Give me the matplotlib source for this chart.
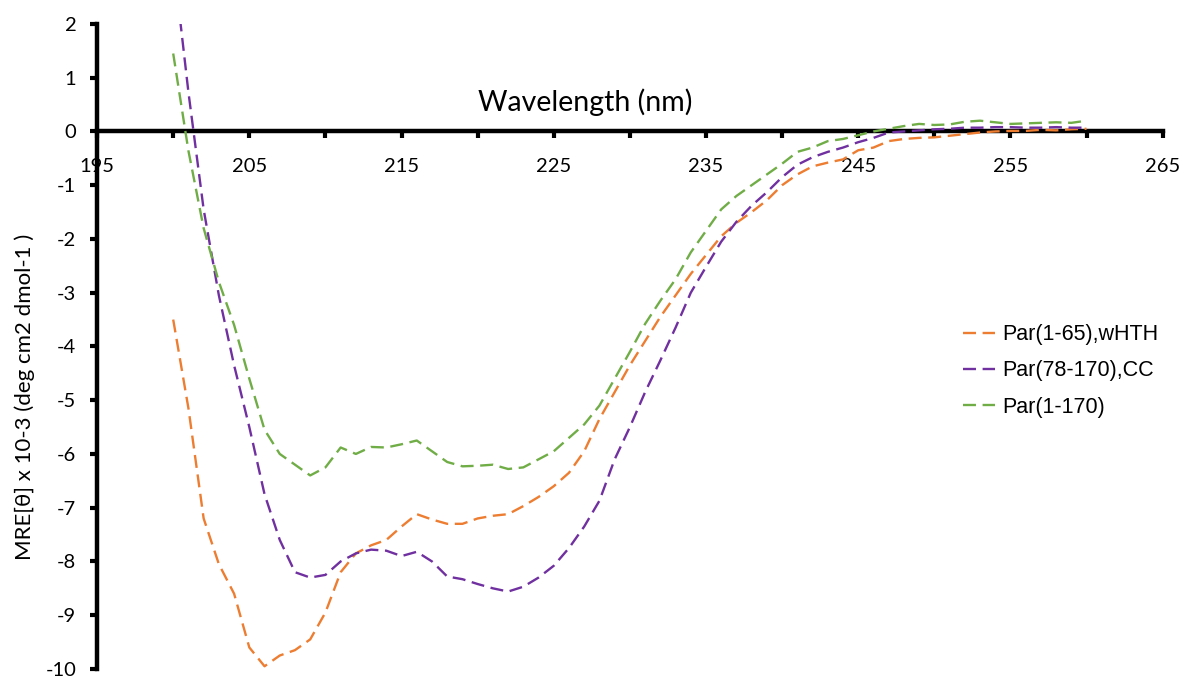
import matplotlib
matplotlib.use("Agg")
import matplotlib.pyplot as plt
import numpy as np

plt.rcParams["axes.unicode_minus"] = False

wavelength = np.arange(200, 261)

par_1_65 = [
    -3.5, -5.15, -7.2, -8.05, -8.6, -9.6, -9.95, -9.75, -9.65, -9.45,
    -8.95, -8.2, -7.85, -7.7, -7.6, -7.35, -7.12, -7.22, -7.3, -7.3,
    -7.2, -7.15, -7.12, -6.97, -6.8, -6.6, -6.35, -5.95, -5.35, -4.85,
    -4.35, -3.9, -3.45, -3.05, -2.65, -2.3, -1.95, -1.7, -1.5, -1.28,
    -1.0, -0.8, -0.65, -0.58, -0.52, -0.35, -0.3, -0.18, -0.14, -0.12,
    -0.11, -0.08, -0.05, -0.02, 0.0, 0.01, 0.01, 0.03, 0.02, 0.04, 0.05,
]

par_78_170 = [
    3.2, 0.73, -1.45, -3.05, -4.35, -5.5, -6.75, -7.6, -8.2, -8.3,
    -8.25, -8.0, -7.85, -7.78, -7.8, -7.9, -7.82, -8.0, -8.28, -8.33,
    -8.42, -8.5, -8.56, -8.47, -8.3, -8.08, -7.75, -7.35, -6.87, -6.1,
    -5.5, -4.85, -4.26, -3.65, -3.0, -2.52, -2.05, -1.68, -1.38, -1.13,
    -0.85, -0.62, -0.48, -0.38, -0.3, -0.2, -0.12, -0.02, 0.0, 0.02,
    0.04, 0.05, 0.07, 0.07, 0.08, 0.08, 0.07, 0.07, 0.08, 0.07, 0.07,
]

par_1_170 = [
    1.45, -0.36, -1.8, -2.8, -3.6, -4.6, -5.55, -6.0, -6.2, -6.4,
    -6.25, -5.88, -6.0, -5.87, -5.88, -5.82, -5.75, -5.95, -6.15, -6.23,
    -6.22, -6.2, -6.28, -6.25, -6.1, -5.95, -5.7, -5.45, -5.1, -4.6,
    -4.1, -3.58, -3.15, -2.75, -2.25, -1.85, -1.45, -1.2, -1.0, -0.8,
    -0.6, -0.38, -0.3, -0.18, -0.14, -0.07, 0.0, 0.05, 0.1, 0.14,
    0.12, 0.13, 0.18, 0.2, 0.17, 0.14, 0.15, 0.16, 0.17, 0.16, 0.2,
]

series = [
    ("Par(1-65),wHTH", par_1_65, "#ED7D31"),
    ("Par(78-170),CC", par_78_170, "#7030A0"),
    ("Par(1-170)", par_1_170, "#70AD47"),
]

fig = plt.figure(figsize=(11.84, 6.84), dpi=100)
ax = fig.add_axes([0.082, 0.022, 0.9, 0.943])

for name, vals, col in series:
    ax.plot(wavelength, vals, color=col, lw=1.7, ls=(0, (5.5, 2.8)), label=name)

ax.set_xlim(195, 265)
ax.set_ylim(-10, 2)

# axes drawn Excel style: x axis crosses at zero
ax.spines["top"].set_visible(False)
ax.spines["right"].set_visible(False)
ax.spines["bottom"].set_position(("data", 0))
ax.spines["bottom"].set_linewidth(3.2)
ax.spines["left"].set_linewidth(3.2)
ax.spines["bottom"].set_zorder(1)

ax.set_xticks(np.arange(195, 266, 10))
ax.set_xticks(np.arange(200, 266, 10), minor=True)
ax.set_yticks(np.arange(-10, 3, 1))
ax.tick_params(axis="x", which="both", direction="out", length=5, width=3,
               pad=14, labelsize=14.5)
ax.tick_params(axis="y", direction="out", length=5, width=3, pad=10, labelsize=14.5)
for lab in ax.get_xticklabels() + ax.get_yticklabels():
    lab.set_fontfamily("Lato")

fig.text(585 / 1184, 1 - 102 / 684, "Wavelength (nm)", ha="center", va="center",
         fontsize=20.5, family="Lato")
fig.text(25 / 1184, 1 - 397 / 684, "MRE[θ] x 10-3 (deg cm2 dmol-1 )", rotation=90,
         ha="center", va="center", fontsize=16, family="Lato")

ax.legend(loc="upper left", bbox_to_anchor=(944 / 1184, 1 - 305 / 684),
          bbox_transform=fig.transFigure, frameon=False, handlelength=1.45,
          handletextpad=0.35, labelspacing=0.7,
          prop={"family": "Liberation Sans", "size": 15.5})

fig.savefig("out.png", dpi=100)
